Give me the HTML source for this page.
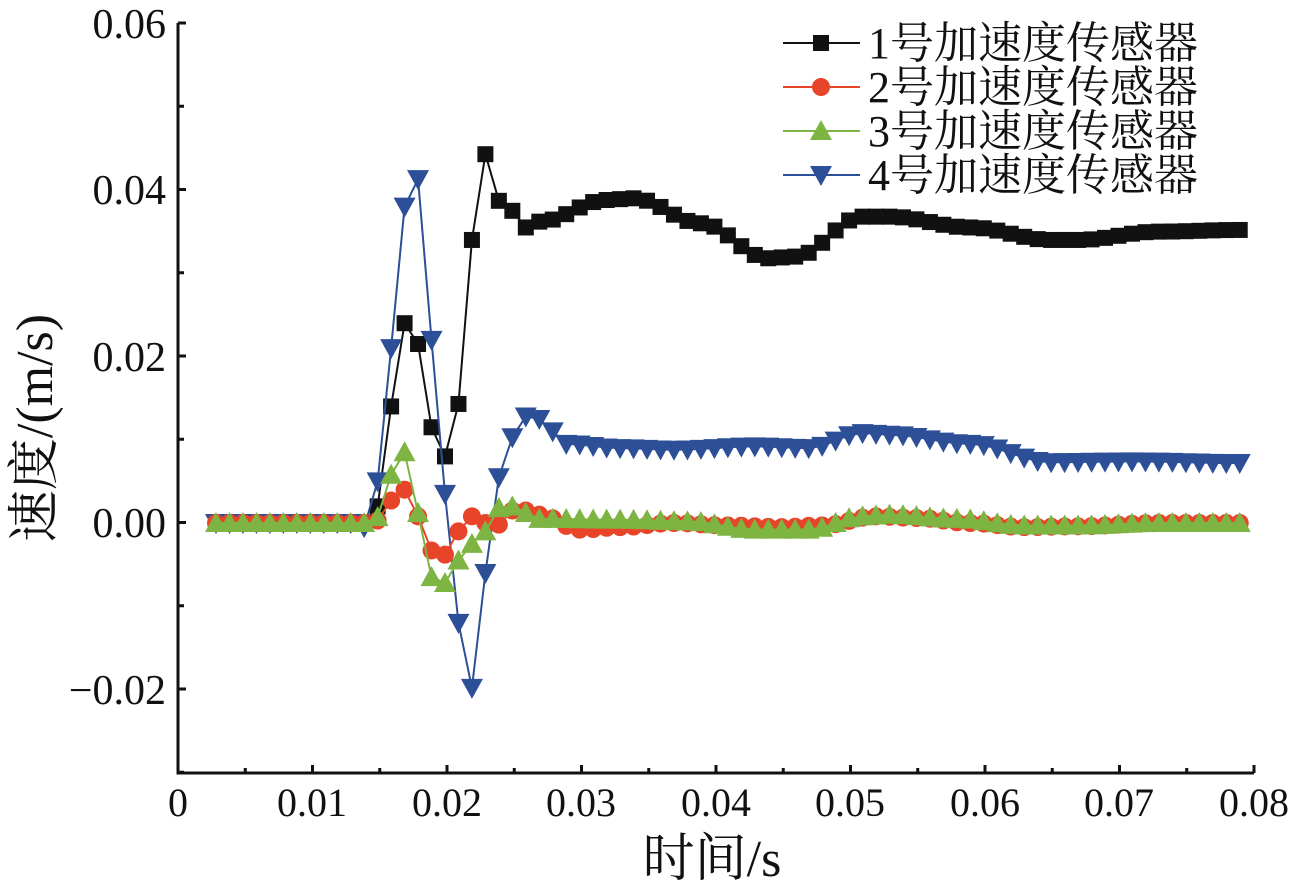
<!DOCTYPE html>
<html><head><meta charset="utf-8"><style>
html,body{margin:0;padding:0;background:#fff;}
svg text{font-family:"Liberation Serif","Noto Serif CJK SC",serif;fill:#111;}
</style></head><body>
<svg id="s" width="1301" height="887" viewBox="0 0 1301 887" xmlns="http://www.w3.org/2000/svg">
<g stroke="#111" stroke-width="3" fill="none">
<polyline points="178,23 178,773 1254,773"/>
</g>
<g id="ticks" stroke="#111" stroke-width="3"></g>
<g font-size="42" text-anchor="end">
<text x="166" y="38">0.06</text>
<text x="166" y="204">0.04</text>
<text x="166" y="371">0.02</text>
<text x="166" y="537">0.00</text>
<text x="166" y="704">−0.02</text>
</g>
<g font-size="40" text-anchor="middle">
<text x="178" y="816">0</text>
<text x="312" y="816">0.01</text>
<text x="447" y="816">0.02</text>
<text x="581" y="816">0.03</text>
<text x="716" y="816">0.04</text>
<text x="850" y="816">0.05</text>
<text x="985" y="816">0.06</text>
<text x="1119" y="816">0.07</text>
<text x="1254" y="816">0.08</text>
</g>
<text x="712" y="876" font-size="52" text-anchor="middle">时间/s</text>
<text transform="translate(52,428) rotate(-90)" font-size="52" text-anchor="middle">速度/(m/s)</text>
<g id="series"></g>
<g id="legend" font-size="44"></g>
</svg>
<script>
var NS="http://www.w3.org/2000/svg";
function el(t,a,p){var e=document.createElementNS(NS,t);for(var k in a)e.setAttribute(k,a[k]);p.appendChild(e);return e;}
var tk=document.getElementById('ticks');
for(var i=0;i<=9;i++){var y=23+i*83.25;el('line',{x1:178,x2:i%2==0?186:184,y1:y,y2:y},tk);}
for(var i=0;i<=16;i++){var x=178+i*67.25;el('line',{x1:x,x2:x,y1:773,y2:i%2==0?765:768},tk);}
function Y(v){return 523-v*8325;}
function X(i){return 216+i*13.47;}
function interp(kp,i){for(var k=0;k<kp.length-1;k++){if(i>=kp[k][0]&&i<=kp[k+1][0]){var t=(i-kp[k][0])/(kp[k+1][0]-kp[k][0]);t=(1-Math.cos(Math.PI*t))/2;return kp[k][1]+t*(kp[k+1][1]-kp[k][1]);}}return kp[kp.length-1][1];}
function build(early,kp){var d=[];for(var i=0;i<=76;i++){if(i<=11)d.push(0);else if(i-12<early.length)d.push(early[i-12]);else d.push(interp(kp,i));}return d;}
var black=build([0.002,0.014,0.024,0.0215,0.0115,0.008,0.0143,0.034,0.0443,0.0387,0.0375,0.0355,0.0362],[[24,0.0362],[29,0.0388],[31,0.039],[36,0.036],[41,0.0318],[43,0.032],[48,0.0368],[50,0.0368],[56,0.0355],[62,0.034],[64,0.034],[70,0.035],[76,0.0352]]);
var blue=build([0.005,0.021,0.038,0.0413,0.022,0.0035,-0.012,-0.0198,-0.006,0.0055,0.0103,0.0128,0.0125,0.011,0.0095],[[26,0.0095],[30,0.009],[34,0.0088],[40,0.0092],[44,0.009],[48,0.0108],[50,0.0106],[56,0.0095],[62,0.0073],[68,0.0074],[76,0.0072]]);
blue[11]=-0.0005;
var red=build([0.0003,0.0027,0.004,0.0008,-0.0033,-0.0038,-0.001,0.0008,0.0,-0.0002,0.0015,0.0015,0.001],[[24,0.001],[27,-0.0008],[30,-0.0005],[34,0],[38,-0.0003],[42,-0.0005],[45,-0.0003],[49,0.0008],[52,0.0006],[56,0.0],[60,-0.0005],[64,-0.0004],[70,0],[76,0]]);
var green=build([0.0007,0.0058,0.0085,0.0012,-0.0065,-0.0072,-0.0045,-0.0025,-0.001,0.0018,0.002,0.0012,0.0005],[[24,0.0005],[30,0.0004],[35,0.0002],[40,-0.0008],[44,-0.0008],[48,0.0008],[50,0.001],[55,0.0005],[60,-0.0003],[64,-0.0003],[70,0],[76,0]]);
var sg=document.getElementById('series');
function marker(type,x,y,c,g){
 if(type=='sq')el('rect',{x:x-8,y:y-8,width:16,height:16,fill:c},g);
 else if(type=='ci')el('circle',{cx:x,cy:y,r:9,fill:c},g);
 else if(type=='up')el('polygon',{points:(x-11)+','+(y+9)+' '+(x+11)+','+(y+9)+' '+x+','+(y-11),fill:c},g);
 else el('polygon',{points:(x-11)+','+(y-9)+' '+(x+11)+','+(y-9)+' '+x+','+(y+11),fill:c},g);
}
var S=[[black,'#111','sq'],[red,'#e8442a','ci'],[green,'#7db442','up'],[blue,'#2c4f98','dn']];
var order=[0,3,1,2];
order.forEach(function(k){var s=S[k];var g=el('g',{},sg);var pts=s[0].map(function(v,i){return X(i)+','+Y(v);}).join(' ');
 el('polyline',{points:pts,fill:'none',stroke:s[1],'stroke-width':2},g);
 s[0].forEach(function(v,i){marker(s[2],X(i),Y(v),s[1],g);});});
var lg=document.getElementById('legend');
S.forEach(function(s,k){var y=43+k*44;el('line',{x1:783,x2:860,y1:y,y2:y,stroke:s[1],'stroke-width':2},lg);marker(s[2],821,y,s[1],lg);var t=el('text',{x:868,y:y+15},lg);t.textContent=(k+1)+'号加速度传感器';});
</script>
</body></html>
